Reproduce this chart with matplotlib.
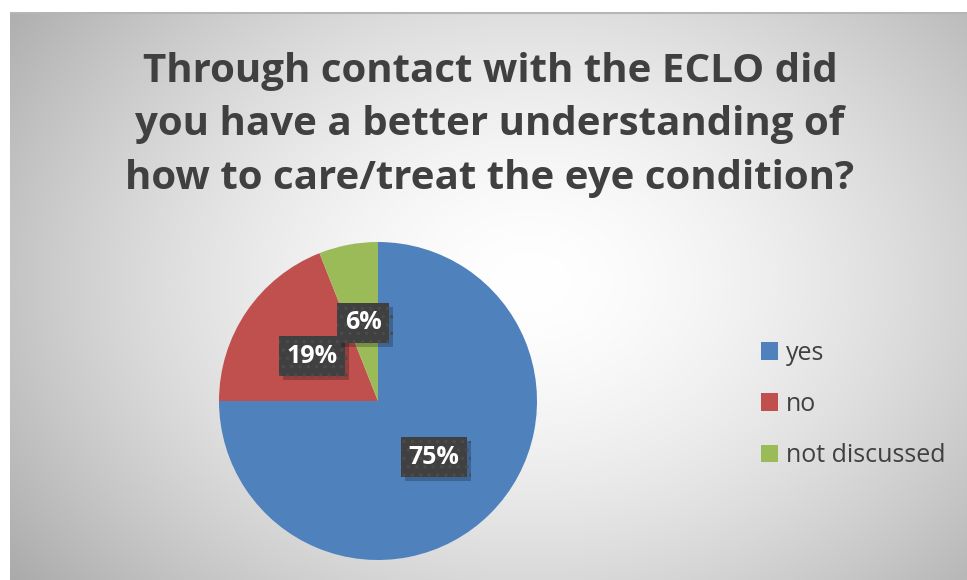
import numpy as np
import matplotlib
matplotlib.use("Agg")
import matplotlib.pyplot as plt
import matplotlib.patheffects as pe

labels = ["yes", "no", "not discussed"]
shares = [75, 19, 6]
colors = ["#4F81BD", "#C0504D", "#9BBB59"]
title = "Through contact with the ECLO did\nyou have a better understanding of\nhow to care/treat the eye condition?"

W, H = 967, 580
fig = plt.figure(figsize=(W / 100, H / 100), dpi=100)
fig.patch.set_facecolor("white")

# radial grey backdrop for the chart area
bg = fig.add_axes([10 / W, 0, (W - 10) / W, (H - 12) / H])
yy, xx = np.mgrid[0:568, 0:957]
d = np.hypot((xx - 520) / 560, (yy - 270) / 420)
shade = 1.0 - 0.26 * np.clip(d, 0, 1.2) ** 1.6
bg.imshow(np.dstack([shade] * 3), aspect="auto", extent=[0, 1, 0, 1], interpolation="bilinear")
bg.plot([0, 1], [0.999, 0.999], color="#b5b5b5", lw=1.5)
bg.set_xlim(0, 1)
bg.set_ylim(0, 1)
bg.axis("off")

fig.text(490 / W, 1 - 125 / H, title, ha="center", va="center", fontsize=29,
         fontweight="bold", color="#404040", family="Open Sans", linespacing=1.48)

ax = fig.add_axes([(378 - 159) / W, 1 - (401 + 159) / H, 318 / W, 318 / H])
wedges, _ = ax.pie(shares, colors=colors, startangle=90, counterclock=False,
                   wedgeprops=dict(linewidth=0))
ax.set_aspect("equal")
ax.set_xlim(-1, 1)
ax.set_ylim(-1, 1)

# value labels sit in dark boxes halfway out along each wedge
plt.rcParams["hatch.linewidth"] = 1.2
ang = 90.0
for v in shares:
    mid = np.deg2rad(ang - v * 3.6 / 2)
    ang -= v * 3.6
    x, y = 0.5 * np.cos(mid), 0.5 * np.sin(mid)
    t = ax.text(x, y, f"{v}%", ha="center", va="center", fontsize=18, fontweight="bold",
                color="white", family="Open Sans",
                bbox=dict(boxstyle="square,pad=0.3", fc="#404040", ec="#4b4b4b",
                          lw=0, hatch=".."))
    t.get_bbox_patch().set_path_effects([
        pe.SimplePatchShadow(offset=(3, -3), shadow_rgbFace="black", alpha=0.22),
        pe.Normal()])

leg = fig.legend(wedges, labels, loc="upper left", bbox_to_anchor=(738 / W, 1 - 318 / H),
                 frameon=False, handlelength=0.7, handleheight=0.7,
                 handletextpad=0.3, labelspacing=1.05, labelcolor="#404040",
                 prop=dict(family="Open Sans", size=18))

fig.savefig("out.png", dpi=100)
